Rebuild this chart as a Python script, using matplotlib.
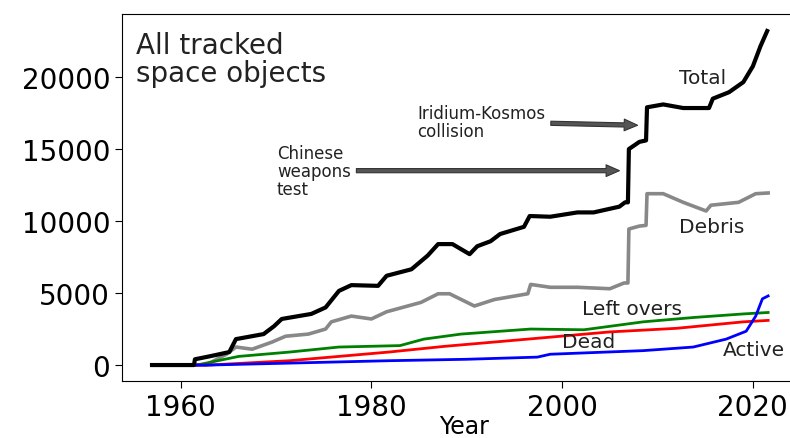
import matplotlib
matplotlib.use("Agg")
import matplotlib.pyplot as plt

# values
total_years = [1957, 1961.4, 1961.5, 1963, 1965.1, 1965.8, 1968.7, 1969.8, 1970.6,
               1973.7, 1975.2, 1976.6, 1977.9, 1980.7, 1981.6, 1984.2, 1985.9,
               1987.0, 1988.5, 1990.3, 1991.1, 1992.5, 1993.5, 1996.0, 1996.6,
               1998.75, 2001.6, 2003.3, 2006.0, 2006.6, 2006.9, 2007.0, 2008.1,
               2008.8, 2008.9, 2010.6, 2012.7, 2015.4, 2015.8, 2017.5, 2019.0,
               2020.0, 2020.8, 2021.5]
total = [0, 0, 400, 600, 900, 1800, 2150, 2700, 3200, 3550, 4000, 5150, 5550,
         5500, 6200, 6650, 7600, 8400, 8400, 7700, 8250, 8600, 9100, 9600, 10350,
         10300, 10600, 10600, 11000, 11300, 11300, 15000, 15500, 15600, 17900,
         18100, 17850, 17850, 18500, 18950, 19650, 20750, 22150, 23200]

debris_years = [1957, 1962.7, 1963.5, 1964.8, 1965.8, 1967.5, 1969.6, 1971.0,
                1973.4, 1975.2, 1975.8, 1977.9, 1980.0, 1981.6, 1985.2, 1987.0,
                1988.2, 1990.8, 1992.9, 1996.4, 1996.7, 1998.75, 2001.6, 2005.0,
                2006.5, 2006.9, 2007.0, 2008.1, 2008.8, 2008.9, 2010.6, 2012.7,
                2015.1, 2015.6, 2018.5, 2020.3, 2021.6]
debris = [0, 0, 300, 750, 1250, 1100, 1600, 2000, 2150, 2500, 3000, 3400, 3200,
          3700, 4350, 4950, 4950, 4100, 4550, 4950, 5600, 5400, 5400, 5300, 5700,
          5700, 9450, 9650, 9700, 11900, 11900, 11300, 10700, 11100, 11300, 11900,
          11950]

left_years = [1957, 1961.7, 1966.1, 1971.4, 1976.6, 1983.0, 1985.5, 1989.4,
              1996.7, 2002.3, 2008.5, 2013.75, 2019.0, 2021.6]
left_overs = [0, 0, 600, 900, 1250, 1350, 1800, 2150, 2500, 2450, 3000, 3300,
              3550, 3650]

dead_years = [1957, 1963, 1971.4, 1976.6, 1981.8, 1987.7, 1996.4, 2005.0, 2012.0,
              2019.0, 2021.6]
dead = [0, 0, 300, 600, 900, 1300, 1800, 2300, 2550, 3000, 3100]

active_years = [1957, 1963, 1981.8, 1990.0, 1997.4, 1998.75, 2008.5, 2013.75,
                2017.2, 2019.3, 2020.3, 2021.0, 2021.6]
active = [0, 0, 300, 400, 550, 750, 1000, 1250, 1800, 2350, 3400, 4600, 4800]

fig = plt.figure(figsize=(7.9, 4.39), dpi=100)
ax = fig.add_axes([0.1544, 0.1298, 0.865, 0.836])

ax.plot(debris_years, debris, color="#888888", lw=2.6)
ax.plot(left_years, left_overs, color="green", lw=2)
ax.plot(dead_years, dead, color="red", lw=2)
ax.plot(active_years, active, color="blue", lw=2)
ax.plot(total_years, total, color="black", lw=3)

ax.set_xlim(1953.85, 2025.5)
ax.set_ylim(-1110, 24380)
ax.set_xticks([1960, 1980, 2000, 2020])
ax.set_yticks([0, 5000, 10000, 15000, 20000])
ax.tick_params(labelsize=20, length=5)
ax.set_xlabel("Year", fontsize=17, labelpad=-5)
ax.spines["right"].set_visible(False)

ax.text(1955.3, 23200, "All tracked\nspace objects", fontsize=20,
        va="top", ha="left", color="#222222", linespacing=1.0)

ax.text(2012.3, 20000, "Total", fontsize=14.5, va="center", color="#222222")
ax.text(2012.3, 9600, "Debris", fontsize=14.5, va="center", color="#222222")
ax.text(2002.1, 3900, "Left overs", fontsize=14.5, va="center", color="#222222")
ax.text(2000.0, 1600, "Dead", fontsize=14.5, va="center", color="#222222")
ax.text(2016.9, 1100, "Active", fontsize=14.5, va="center", color="#222222")

arrow = dict(arrowstyle="simple,head_width=0.7,head_length=0.8,tail_width=0.25",
             fc="#555555", ec="#333333", lw=0.8)
ax.annotate("Chinese\nweapons\ntest", xy=(2006.3, 13500), xytext=(1970.1, 13500),
            fontsize=12, va="center", ha="left", color="#222222",
            linespacing=1.0, arrowprops=arrow)
ax.annotate("Iridium-Kosmos\ncollision", xy=(2008.2, 16650), xytext=(1984.8, 16900),
            fontsize=12, va="center", ha="left", color="#222222",
            linespacing=1.0, arrowprops=arrow)

fig.savefig("out.png", dpi=100)
